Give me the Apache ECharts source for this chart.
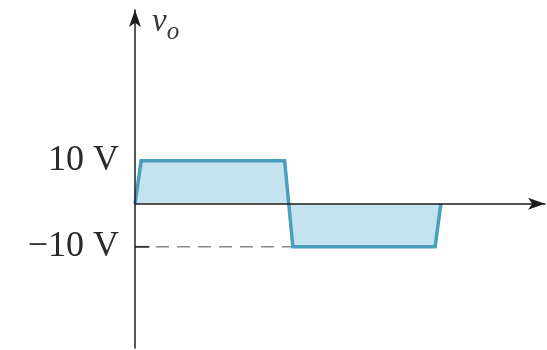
<!DOCTYPE html>
<html>
<head>
<meta charset="utf-8">
<script src="https://cdn.jsdelivr.net/npm/echarts@6/dist/echarts.min.js"></script>
<style>
html,body{margin:0;padding:0;background:#fff;}
#c{width:547px;height:350px;}
</style>
</head>
<body>
<div id="c"></div>
<script>
// Output waveform v_o (time axis in arbitrary units, volts on y)
const waveX = [0, 1.5, 36.5, 38.5, 73.2, 74.6];
const waveY = [0, 10, 10, -10, -10, 0];
// Dashed reference line at -10 V
const dashX = [0, 38.5];
const dashY = [-10, -10];
// Tick labels shown on the y axis
const tickValues = [10, -10];
const tickLabels = ['10 V', '\u221210 V'];

const chart = echarts.init(document.getElementById('c'), null, {renderer: 'canvas'});
const serif = '"Liberation Serif", "DejaVu Serif", serif';

chart.setOption({
  animation: false,
  backgroundColor: '#ffffff',
  grid: {left: 135, right: 2, top: 10, bottom: 2},
  xAxis: {
    type: 'value', min: 0, max: 100, z: 5,
    axisLine: {show: true, onZero: true, symbol: ['none', 'arrow'], symbolSize: [9, 17],
      lineStyle: {color: '#1e1e1e', width: 1.5}},
    axisTick: {show: false}, axisLabel: {show: false}, splitLine: {show: false}
  },
  yAxis: {
    type: 'value', min: -33.5, max: 45, interval: 0.5, z: 5,
    name: '{v|v}{o|o}',
    nameLocation: 'end',
    nameGap: 4,
    nameTextStyle: {
      align: 'left', verticalAlign: 'top', padding: [0, 0, 0, 17],
      rich: {
        v: {fontFamily: serif, fontStyle: 'italic', fontSize: 33, color: '#3a3a3a', padding: [0, 0, 12, 0]},
        o: {fontFamily: serif, fontStyle: 'italic', fontSize: 25, color: '#3a3a3a', padding: [8, 0, 0, 0]}
      }
    },
    axisLine: {show: true, onZero: false, symbol: ['none', 'arrow'], symbolSize: [9, 17],
      lineStyle: {color: '#1e1e1e', width: 1.5}},
    axisTick: {show: false},
    splitLine: {show: false},
    axisLabel: {
      margin: 16,
      fontFamily: serif, fontSize: 36, color: '#2a2a2a',
      padding: [3, 0, 0, 0],
      formatter: function (v) {
        const i = tickValues.indexOf(Math.round(v * 100) / 100);
        return i >= 0 ? tickLabels[i] : '';
      }
    }
  },
  series: [
    {
      type: 'line', z: 2,
      data: dashX.map((x, i) => [x, dashY[i]]),
      symbol: 'none',
      lineStyle: {color: '#8a8a8a', width: 1.5, type: [13, 8]}
    },
    {
      type: 'line', z: 3,
      data: [[dashX[0], dashY[0]], [dashX[0] + 3.5, dashY[0]]],
      symbol: 'none',
      lineStyle: {color: '#333', width: 1.8}
    },
    {
      type: 'line', z: 4,
      data: waveX.map((x, i) => [x, waveY[i]]),
      symbol: 'none',
      lineStyle: {color: '#4a9ebd', width: 3.5, join: 'miter'},
      areaStyle: {color: '#c4e3ee', opacity: 1, origin: 0}
    }
  ]
});
</script>
</body>
</html>
